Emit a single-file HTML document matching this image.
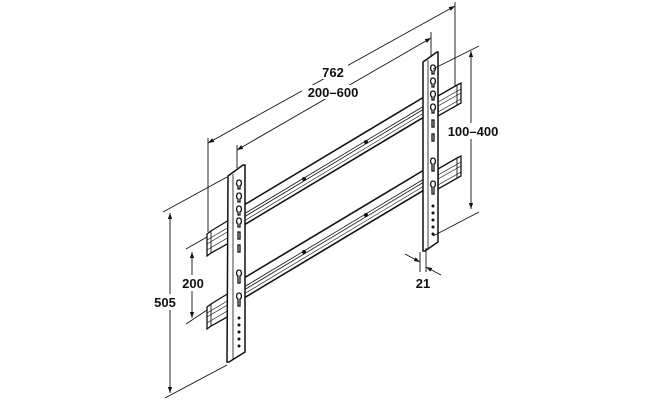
<!DOCTYPE html>
<html><head><meta charset="utf-8"><style>
html,body{margin:0;padding:0;background:#fff;}
svg{display:block;}
text{font-family:"Liberation Sans",Arial,sans-serif;font-weight:bold;font-size:13px;fill:#111;}
</style></head><body>
<svg width="659" height="400" viewBox="0 0 659 400" xmlns="http://www.w3.org/2000/svg">
<defs>
<marker id="a" viewBox="0 0 10 10" refX="10" refY="5" markerWidth="8" markerHeight="6" orient="auto-start-reverse" markerUnits="userSpaceOnUse"><path d="M0,1.5 L10,5 L0,8.5 z" fill="#111"/></marker>
<g id="rail">
<!-- left stub -->
<path d="M207,234 L211,231 L229,220 L229,243 L211,253 L207,256 Z" fill="#fff" stroke="#111" stroke-width="1.3"/>
<path d="M211,231 L211,253" stroke="#111" stroke-width="0.9"/>
<path d="M207,240 L229,227 M207,244 L229,231 M207,250 L229,237" stroke="#111" stroke-width="0.7"/>
<!-- right stub -->
<path d="M438,96 L457,85 L461,83 L461,103 L438,116 Z" fill="#fff" stroke="#111" stroke-width="1.3"/>
<path d="M457,85 L457,105" stroke="#111" stroke-width="0.9"/>
<path d="M438,102 L461,89 M438,106 L461,93 M438,112 L461,99" stroke="#111" stroke-width="0.7"/>
<!-- main rail between uprights -->
<path d="M244,205 L424,97 L424,117 L244,225 Z" fill="#fff" stroke="#111" stroke-width="1.6"/>
<path d="M244,214 L424,106" stroke="#111" stroke-width="0.8"/>
<path d="M244,217 L424,109" stroke="#111" stroke-width="0.8"/>
<path d="M244,221 L424,113" stroke="#111" stroke-width="0.6"/>
<circle cx="304" cy="179" r="2" fill="#111"/>
<circle cx="366" cy="142" r="2" fill="#111"/>
</g>
</defs>

<use href="#rail"/>
<use href="#rail" transform="translate(0,73)"/>

<!-- left upright -->
<path d="M228,176 L243,165 L245,165 L245,352 L229,362 L227,362 Z" fill="#fff" stroke="#111" stroke-width="1.5"/>
<path d="M233,174 L233,359" stroke="#111" stroke-width="0.8"/>
<g fill="none" stroke="#111" stroke-width="1.3">
<path d="M239,180 c-3,0 -3,5 -1,6 l0,3 l2,0 l0,-3 c2,-1 2,-6 -1,-6z"/>
<path d="M239,193 c-3,0 -3,5 -1,6 l0,3 l2,0 l0,-3 c2,-1 2,-6 -1,-6z"/>
<path d="M239,206 c-3,0 -3,5 -1,6 l0,3 l2,0 l0,-3 c2,-1 2,-6 -1,-6z"/>
<path d="M239,218 c-3,0 -3,5 -1,6 l0,3 l2,0 l0,-3 c2,-1 2,-6 -1,-6z"/>
<rect x="238" y="232" width="2" height="7"/>
<rect x="238" y="245" width="2" height="7"/>
<path d="M239,270 c-3,0 -3,5 -1,6 l0,7 l2,0 l0,-7 c2,-1 2,-6 -1,-6z"/>
<path d="M239,293 c-3,0 -3,5 -1,6 l0,7 l2,0 l0,-7 c2,-1 2,-6 -1,-6z"/>
</g>
<g fill="#111"><circle cx="239" cy="318" r="1.5"/><circle cx="239" cy="325" r="1.5"/><circle cx="239" cy="332" r="1.5"/><circle cx="239" cy="339" r="1.5"/><circle cx="239" cy="346" r="1.5"/></g>

<!-- right upright -->
<path d="M423,62 L437,52 L438,52 L438,242 L425,251 L423,251 Z" fill="#fff" stroke="#111" stroke-width="1.5"/>
<path d="M428,60 L428,248" stroke="#111" stroke-width="0.8"/>
<g fill="none" stroke="#111" stroke-width="1.3">
<path d="M433,65 c-3,0 -3,5 -1,6 l0,3 l2,0 l0,-3 c2,-1 2,-6 -1,-6z"/>
<path d="M433,78 c-3,0 -3,5 -1,6 l0,3 l2,0 l0,-3 c2,-1 2,-6 -1,-6z"/>
<path d="M433,91 c-3,0 -3,5 -1,6 l0,3 l2,0 l0,-3 c2,-1 2,-6 -1,-6z"/>
<path d="M433,104 c-3,0 -3,5 -1,6 l0,3 l2,0 l0,-3 c2,-1 2,-6 -1,-6z"/>
<rect x="432" y="120" width="2" height="7"/>
<rect x="432" y="134" width="2" height="7"/>
<path d="M433,158 c-3,0 -3,5 -1,6 l0,7 l2,0 l0,-7 c2,-1 2,-6 -1,-6z"/>
<path d="M433,181 c-3,0 -3,5 -1,6 l0,7 l2,0 l0,-7 c2,-1 2,-6 -1,-6z"/>
</g>
<g fill="#111"><circle cx="433" cy="206" r="1.5"/><circle cx="433" cy="213" r="1.5"/><circle cx="433" cy="220" r="1.5"/><circle cx="433" cy="227" r="1.5"/><circle cx="433" cy="234" r="1.5"/></g>

<!-- dimension lines -->
<g stroke="#111" stroke-width="0.9" fill="none">
<line x1="208" y1="138" x2="208" y2="232"/>
<line x1="455" y1="2" x2="455" y2="86"/>
<line x1="208" y1="143" x2="455" y2="6" marker-start="url(#a)" marker-end="url(#a)"/>
<line x1="237" y1="145" x2="237" y2="168"/>
<line x1="431" y1="32" x2="431" y2="57"/>
<line x1="237" y1="150" x2="431" y2="38" marker-start="url(#a)" marker-end="url(#a)"/>
<line x1="433" y1="69" x2="479" y2="46"/>
<line x1="433" y1="236" x2="479" y2="212"/>
<line x1="471" y1="51" x2="471" y2="209" marker-start="url(#a)" marker-end="url(#a)"/>
<line x1="227" y1="177" x2="163" y2="212"/>
<line x1="227" y1="365" x2="165" y2="398"/>
<line x1="170" y1="213" x2="170" y2="393" marker-start="url(#a)" marker-end="url(#a)"/>
<line x1="207" y1="237" x2="186" y2="249"/>
<line x1="207" y1="310" x2="186" y2="324"/>
<line x1="192" y1="252" x2="192" y2="318" marker-start="url(#a)" marker-end="url(#a)"/>
<line x1="420" y1="252" x2="420" y2="272"/>
<line x1="426" y1="248" x2="426" y2="272"/>
<line x1="405" y1="254" x2="420" y2="262" marker-end="url(#a)"/>
<line x1="441" y1="275" x2="426" y2="267" marker-end="url(#a)"/>
</g>

<rect x="318" y="65" width="30" height="14" fill="#fff"/>
<text x="333" y="77" text-anchor="middle">762</text>
<rect x="302" y="85" width="62" height="14" fill="#fff"/>
<text x="333" y="97" text-anchor="middle">200–600</text>
<rect x="446" y="123" width="54" height="16" fill="#fff"/>
<text x="473" y="136" text-anchor="middle">100–400</text>
<rect x="155" y="294" width="30" height="16" fill="#fff"/>
<text x="165" y="307" text-anchor="middle">505</text>
<rect x="180" y="275" width="26" height="16" fill="#fff"/>
<text x="193" y="288" text-anchor="middle">200</text>
<text x="423" y="288" text-anchor="middle">21</text>
</svg>
</body></html>
